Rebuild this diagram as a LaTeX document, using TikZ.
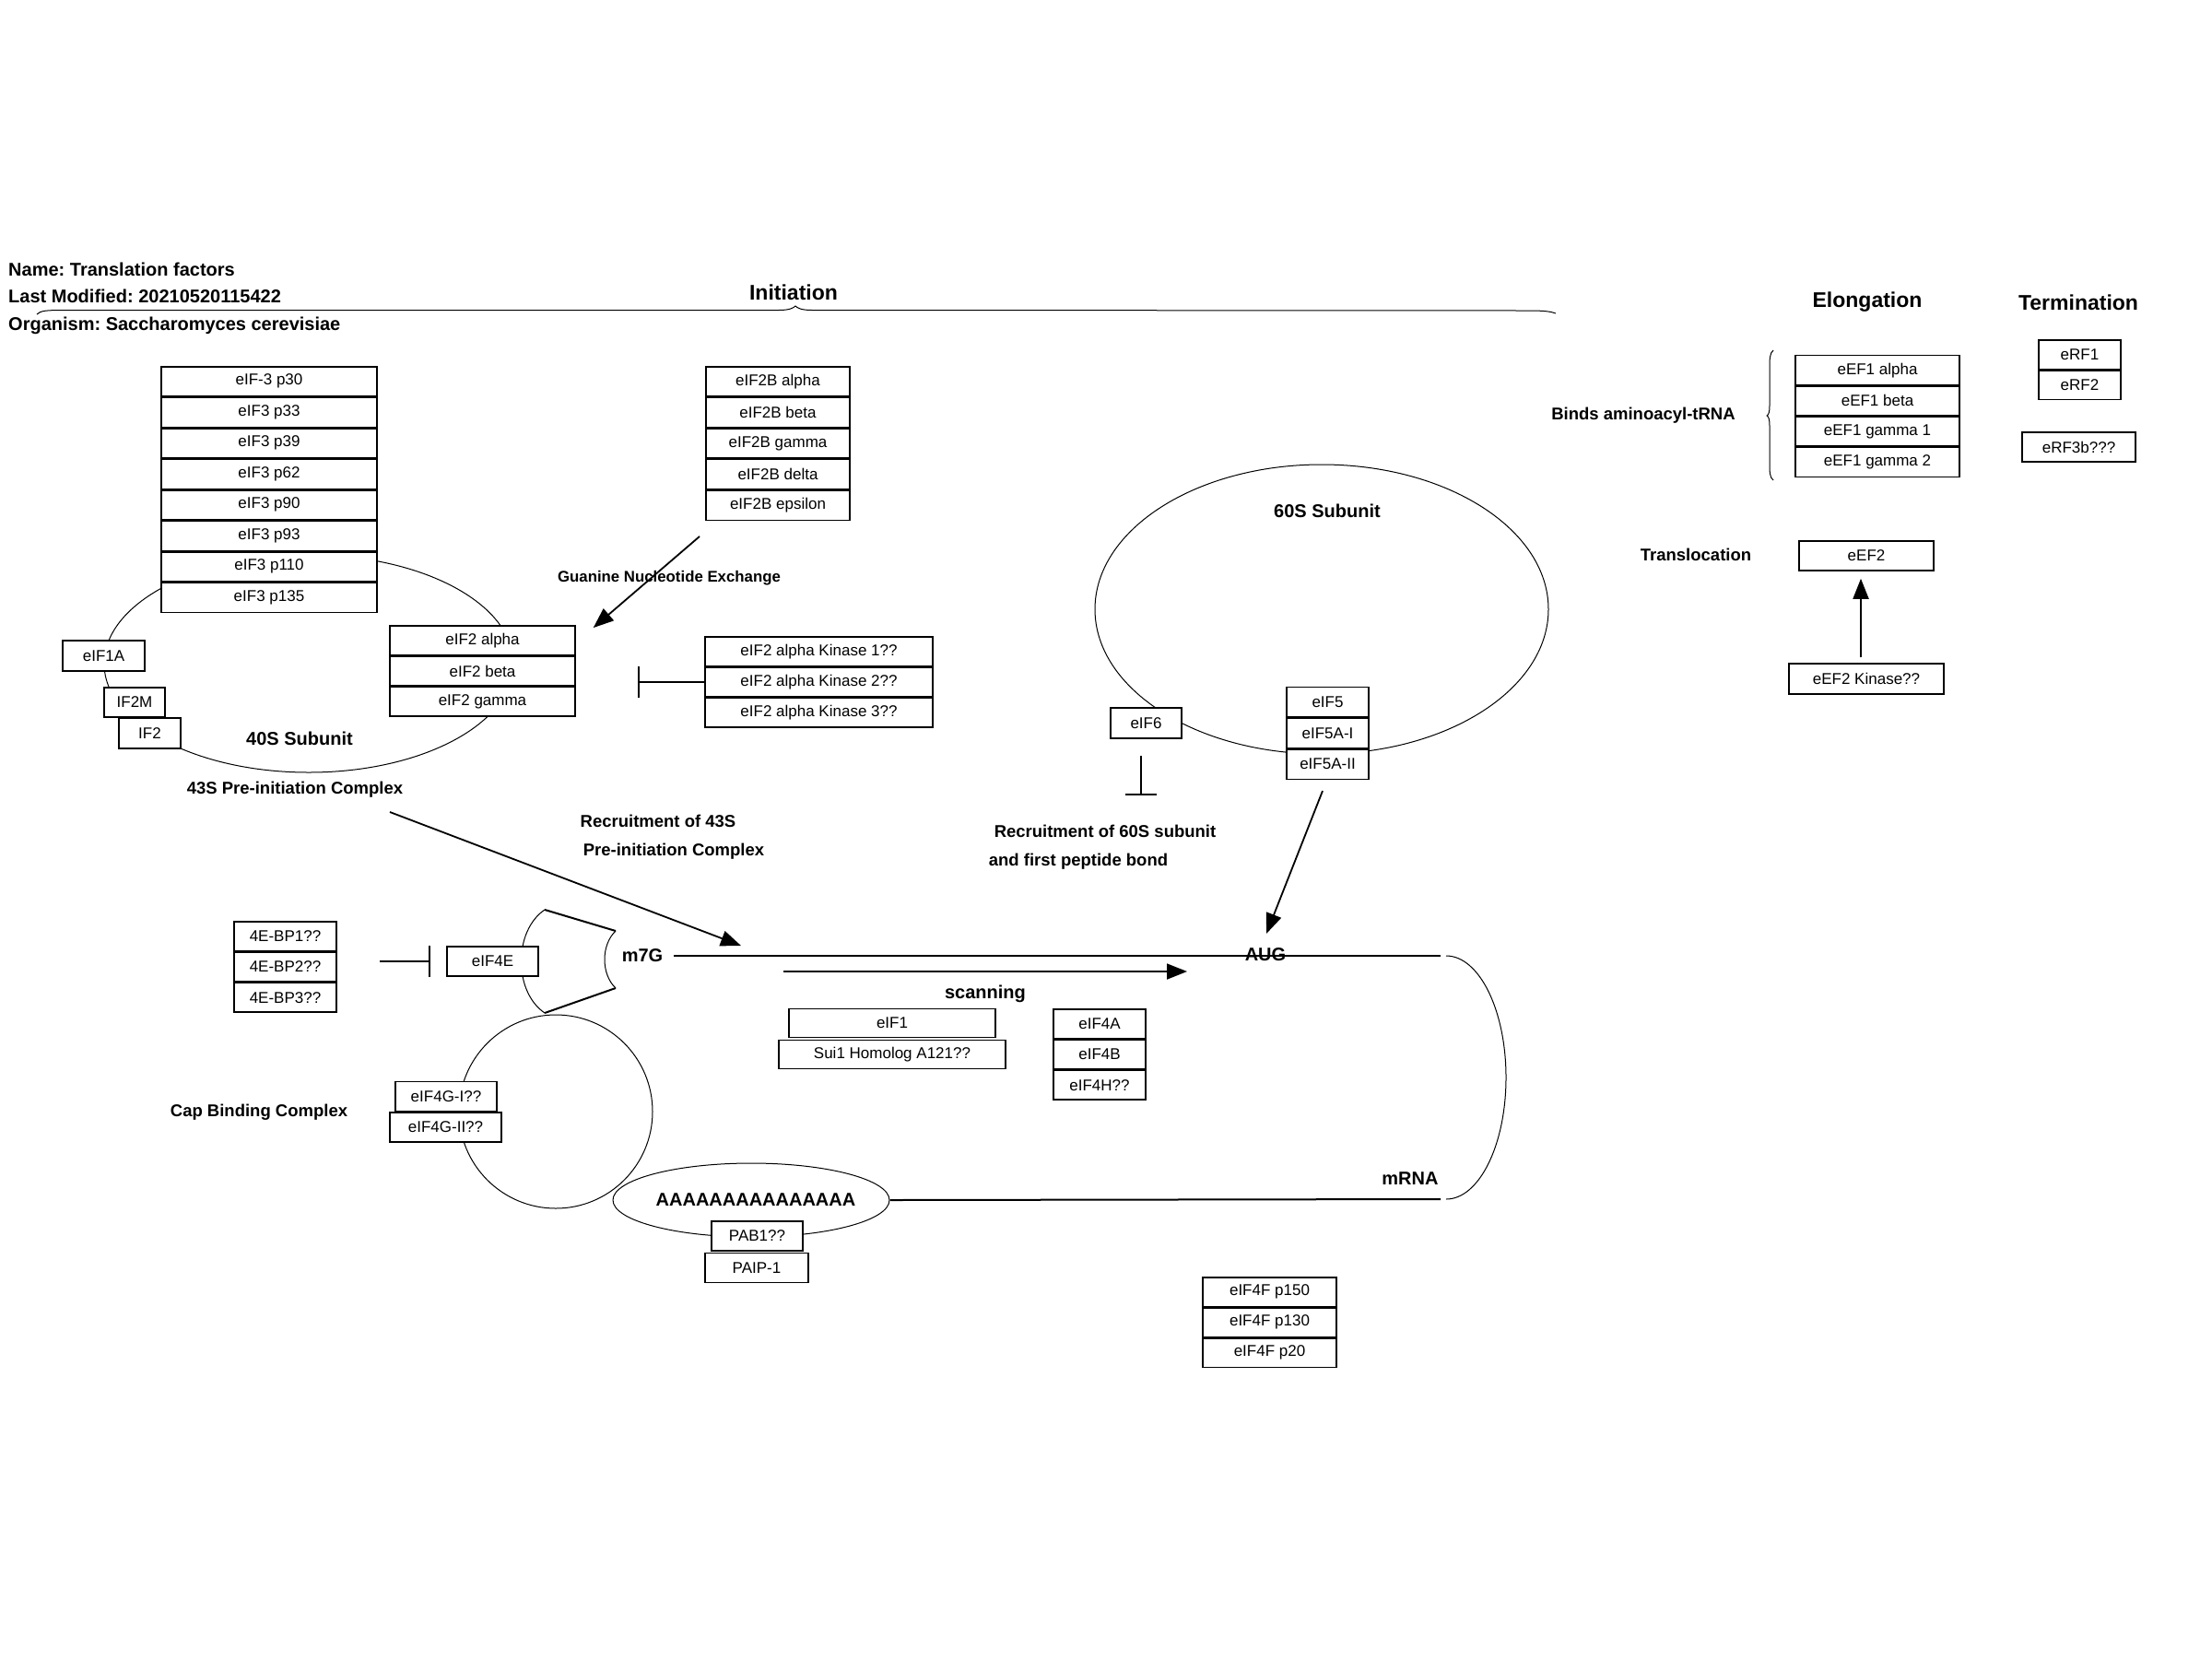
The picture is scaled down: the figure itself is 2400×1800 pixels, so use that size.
\documentclass[tikz,border=0pt]{standalone}
\usepackage{fontspec}
\setmainfont{Liberation Sans}
\usetikzlibrary{arrows.meta,shapes.geometric}
\frenchspacing
\begin{document}
\begin{tikzpicture}[x=1pt,y=-1pt,
  fbox/.style={draw, line width=1.5pt, fill=white, inner sep=0pt, font=\fontsize{17}{20}\selectfont},
  lbl/.style={font=\bfseries\fontsize{18.5}{22}\selectfont, inner sep=0pt},
  biglbl/.style={font=\bfseries\fontsize{20}{24}\selectfont, inner sep=0pt},
  hdr/.style={font=\bfseries\fontsize{23}{27}\selectfont, inner sep=0pt},
  smalllbl/.style={font=\bfseries\fontsize{16.8}{20}\selectfont, inner sep=0pt},
  thinline/.style={line width=1pt},
  mline/.style={line width=2pt},
  arr/.style={line width=1.8pt, -{Triangle[length=22pt,width=17pt]}},
  inh/.style={line width=1.8pt, -{Bar[width=34pt,line width=1.8pt]}},
  sthree/.style={fbox, minimum width=234pt, minimum height=32pt},
  stwob/.style={fbox, minimum width=156pt, minimum height=32.1pt},
  stwo/.style={fbox, minimum width=201pt, minimum height=31.8pt},
  skin/.style={fbox, minimum width=247pt, minimum height=31.8pt},
  sfive/.style={fbox, minimum width=89pt, minimum height=32.2pt},
  sbp/.style={fbox, minimum width=111pt, minimum height=31.8pt},
  sfoura/.style={fbox, minimum width=100pt, minimum height=31.8pt},
  sfourf/.style={fbox, minimum width=145pt, minimum height=31.5pt},
  seef/.style={fbox, minimum width=178pt, minimum height=31.75pt},
  serf/.style={fbox, minimum width=89pt, minimum height=31.5pt}]
\useasboundingbox (0,0) rectangle (2400,1800);

% ---- background shapes ----
\draw[thinline] (335,720) ellipse [x radius=222, y radius=118];
\draw[thinline] (1434,661) ellipse [x radius=246, y radius=157];
\node[draw, thinline, circle, minimum size=210pt, inner sep=0pt] (capc) at (603,1206) {};
\node[draw, thinline, ellipse, minimum width=300pt, minimum height=80pt, inner sep=0pt] (polya) at (815,1302) {};

% Initiation brace
\draw[thinline] (40,341) .. controls (44,337) and (50,336.5) .. (70,336.5) -- (845,336.5)
  .. controls (857,336.5) and (861,334) .. (863,332) .. controls (865,334) and (869,336.5) .. (881,336.5)
  -- (1660,337) .. controls (1675,337) and (1683,338) .. (1688,340);
% Elongation brace
\draw[thinline] (1924,380) .. controls (1920,383) and (1920,390) .. (1920,400) -- (1920,440)
  .. controls (1920,447) and (1919,450) .. (1917,451) .. controls (1919,452) and (1920,455) .. (1920,462)
  -- (1920,502) .. controls (1920,512) and (1920,518) .. (1924,521);

% cap shape
\draw[thinline] (591,987) .. controls (557,1010) and (557,1076) .. (591,1099);
\draw[mline] (591,987) -- (668,1010);
\draw[mline] (591,1099) -- (668,1072);
\draw[thinline] (668,1010) .. controls (652,1025) and (652,1057) .. (668,1072);

% mRNA
\node[biglbl] (m7g) at (697,1037) {m7G};
\coordinate (mrnaTR) at (1563,1037);
\coordinate (mrnaBR) at (1563,1301);
\draw[mline] ([xshift=12pt]m7g.east) -- (mrnaTR);
\draw[mline] (polya.east) -- (mrnaBR);
\draw[thinline] (1569,1037) arc[start angle=-90, end angle=90, x radius=65, y radius=132];

% ---- boxes ----
\node[sthree] (e3a) at (292,413.75) {eIF-3 p30};
\node[sthree] (e3b) at (292,447.25) {eIF3 p33};
\node[sthree] (e3c) at (292,480.75) {eIF3 p39};
\node[sthree] (e3d) at (292,514.25) {eIF3 p62};
\node[sthree] (e3e) at (292,547.75) {eIF3 p90};
\node[sthree] (e3f) at (292,581.25) {eIF3 p93};
\node[sthree] (e3g) at (292,614.75) {eIF3 p110};
\node[sthree] (e3h) at (292,648.25) {eIF3 p135};

\node[stwob] (b1) at (844,413.8) {eIF2B alpha};
\node[stwob] (b2) at (844,447.4) {eIF2B beta};
\node[stwob] (b3) at (844,481.0) {eIF2B gamma};
\node[stwob] (b4) at (844,514.6) {eIF2B delta};
\node[stwob] (b5) at (844,548.2) {eIF2B epsilon};

\node[stwo] (a1) at (523.5,694.7) {eIF2 alpha};
\node[stwo] (a2) at (523.5,728) {eIF2 beta};
\node[stwo] (a3) at (523.5,761.3) {eIF2 gamma};

\node[skin] (k1) at (888.5,706.7) {eIF2 alpha Kinase 1??};
\node[skin] (k2) at (888.5,740) {eIF2 alpha Kinase 2??};
\node[skin] (k3) at (888.5,773.3) {eIF2 alpha Kinase 3??};

\node[fbox, minimum width=89pt, minimum height=33pt] (e1a) at (112.5,711.5) {eIF1A};
\node[fbox, minimum width=66pt, minimum height=32pt] (if2m) at (146,762) {IF2M};
\node[fbox, minimum width=67pt, minimum height=33pt] (if2) at (162.5,795.5) {IF2};

\node[fbox, minimum width=77pt, minimum height=33pt] (e6) at (1243.5,784.5) {eIF6};
\node[sfive] (e5a) at (1440.5,761.8) {eIF5};
\node[sfive] (e5b) at (1440.5,795.5) {eIF5A-I};
\node[sfive] (e5c) at (1440.5,829.2) {eIF5A-II};

\node[sbp] (bp1) at (309.5,1015.7) {4E-BP1??};
\node[sbp] (bp2) at (309.5,1049) {4E-BP2??};
\node[sbp] (bp3) at (309.5,1082.3) {4E-BP3??};
\node[fbox, minimum width=99pt, minimum height=32pt] (e4e) at (534.5,1043) {eIF4E};

\node[fbox, minimum width=110pt, minimum height=32pt] (g1) at (484,1189.5) {eIF4G-I??};
\node[fbox, minimum width=121pt, minimum height=32pt] (g2) at (483.5,1223) {eIF4G-II??};

\node[fbox, minimum width=99pt, minimum height=32pt] (pab) at (821.5,1341) {PAB1??};
\node[fbox, minimum width=112pt, minimum height=32pt] (paip) at (821,1375.5) {PAIP-1};

\node[fbox, minimum width=224pt, minimum height=31pt] (e1) at (968,1110) {eIF1};
\node[fbox, minimum width=246pt, minimum height=31pt] (sui) at (968,1144) {Sui1 Homolog A121??};

\node[sfoura] (f4a) at (1193,1110.7) {eIF4A};
\node[sfoura] (f4b) at (1193,1144) {eIF4B};
\node[sfoura] (f4h) at (1193,1177.3) {eIF4H??};

\node[sfourf] (ff1) at (1377.5,1401.5) {eIF4F p150};
\node[sfourf] (ff2) at (1377.5,1434.5) {eIF4F p130};
\node[sfourf] (ff3) at (1377.5,1467.5) {eIF4F p20};

\node[seef] (ef1) at (2037,401.6) {eEF1 alpha};
\node[seef] (ef2) at (2037,434.9) {eEF1 beta};
\node[seef] (ef3) at (2037,468.1) {eEF1 gamma 1};
\node[seef] (ef4) at (2037,501.4) {eEF1 gamma 2};

\node[serf] (rf1) at (2256.5,384.5) {eRF1};
\node[serf] (rf2) at (2256.5,417.5) {eRF2};
\node[fbox, minimum width=123pt, minimum height=32pt] (rf3) at (2255.5,485) {eRF3b???};

\node[fbox, minimum width=146pt, minimum height=32pt] (ee2) at (2025,603) {eEF2};
\node[fbox, minimum width=168pt, minimum height=33pt] (ek) at (2025,736.5) {eEF2 Kinase??};

% ---- labels ----
\node[biglbl, anchor=west] (name) at (9,292) {Name: Translation factors};
\node[biglbl, anchor=west] (lastmod) at (9,321) {Last Modified: 20210520115422};
\node[biglbl, anchor=west] (org) at (9,353) {Organism: Saccharomyces cerevisiae};
\node[hdr] (init) at (861,317) {Initiation};
\node[hdr] (elong) at (2026,328) {Elongation};
\node[hdr] (term) at (2255,328) {Termination};

\node[smalllbl] (gne) at (726,627) {Guanine Nucleotide Exchange};
\node[biglbl] (s40) at (325,801) {40S Subunit};
\node[lbl] (c43) at (320,857) {43S Pre-initiation Complex};
\node[biglbl] (s60) at (1440,554) {60S Subunit};
\node[lbl] (r60a) at (1199,902) {Recruitment of 60S subunit};
\node[lbl] (r60b) at (1170,935) {and first peptide bond};
\node[lbl] (r43a) at (714,891) {Recruitment of 43S};
\node[lbl] (r43b) at (731,924) {Pre-initiation Complex};
\node[lbl] (cbc) at (281,1207) {Cap Binding Complex};
\node[biglbl] (aug) at (1373,1036) {AUG};
\node[biglbl] (scan) at (1069,1078) {scanning};
\node[biglbl] (mrna) at (1530,1279) {mRNA};
\node[biglbl] (polyatext) at (820,1302) {AAAAAAAAAAAAAAA};
\node[lbl] (binds) at (1783,451) {Binds aminoacyl-tRNA};
\node[lbl] (transl) at (1840,602) {Translocation};

% ---- connectors ----
\coordinate (kbar) at (692,740);
\draw[inh] (k2.west) -- (kbar);
\coordinate (e6bar) at (1238,863);
\draw[inh] ([shift={(-5.5,18)}]e6.south) -- (e6bar);
\coordinate (bpbar) at (467,1043);
\draw[inh] ([shift={(46,-6)}]bp2.east) -- (bpbar);

\draw[arr] ([shift={(-85,17)}]b5.south) -- ([shift={(19,3)}]a1.north east);
\coordinate (t43) at (804,1026);
\draw[arr] ([shift={(103,24)}]c43.center) -- (t43);
\coordinate (augtip) at (1374,1013);
\draw[arr] ([shift={(-5.5,12)}]e5c.south) -- (augtip);
\coordinate (scanS) at (850,1054);
\coordinate (scanE) at (1288,1054);
\draw[arr] (scanS) -- (scanE);
\draw[arr] ([shift={(-6,-6)}]ek.north) -- ([shift={(-6,8)}]ee2.south);
\end{tikzpicture}
\end{document}
